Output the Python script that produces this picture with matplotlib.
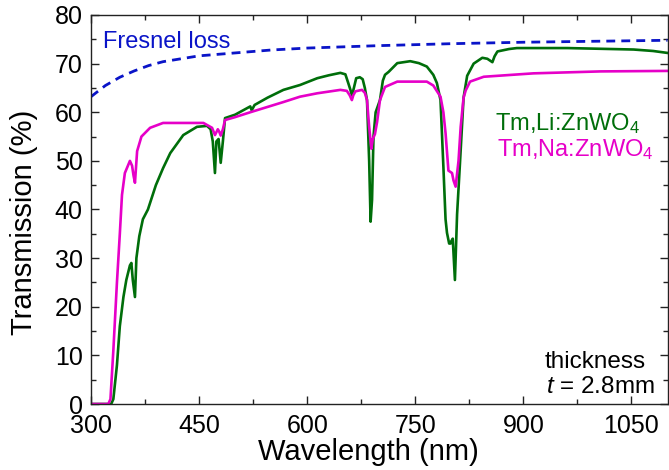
import matplotlib
matplotlib.use("Agg")
import matplotlib.pyplot as plt
from matplotlib.ticker import MultipleLocator

plt.rcParams['font.family'] = ['Liberation Sans', 'DejaVu Sans']
plt.rcParams['mathtext.fontset'] = 'custom'
plt.rcParams['mathtext.rm'] = 'Liberation Sans'
plt.rcParams['mathtext.it'] = 'Liberation Sans:italic'

# Tm,Li:ZnWO4 transmission
li_wl = [300, 328, 331, 336, 340, 345, 349, 354, 356, 358, 361, 363, 367, 372, 379,
         390, 400, 410, 428, 447, 461, 466, 469, 472, 474, 477, 480, 483, 486, 500,
         521, 523, 527, 545, 567, 590, 614, 630, 646, 653, 657, 660, 662, 664, 668,
         673, 677, 680, 683, 686, 688, 690, 692, 695, 701, 705, 708, 713, 725, 743,
         755, 766, 775, 780, 785, 789, 792, 794, 797, 799, 800, 802, 805, 808, 812,
         817, 822, 831, 843, 850, 857, 860, 864, 880, 891, 961, 1053, 1080, 1100]
li_t = [0, 0, 1, 8, 16, 22, 25.5, 28.5, 29, 25.5, 22, 30, 34.5, 38, 40,
        45, 48.5, 51.6, 55.3, 57, 57.2, 56.5, 54, 47.5, 54, 54.5, 49.6, 54, 58.8, 59.5,
        61.2, 60.4, 61.5, 63, 64.6, 65.6, 67, 67.6, 68.1, 67.8, 66, 64.6, 63.5, 64.5, 67,
        67.2, 66.8, 65, 62.5, 50, 37.5, 42, 55, 60, 62.5, 66.5, 67.7, 68.3, 70.1, 70.5,
        70.1, 69.4, 67.7, 66, 62.5, 48.8, 38, 35.2, 33, 33, 33.5, 34, 25.5, 39, 49.5,
        63, 67.5, 70, 71.2, 71, 70.3, 71.5, 72.5, 73, 73.2, 73.2, 72.9, 72.6, 72.2]

# Tm,Na:ZnWO4 transmission
na_wl = [300, 324, 327, 331, 336, 340, 343, 347, 354, 357, 359, 361, 364, 370, 382,
         400, 456, 468, 472, 476, 478, 480, 483, 486, 500, 521, 567, 590, 614, 646,
         655, 659, 662, 664, 667, 676, 680, 683, 686, 689, 691, 694, 697, 701, 708,
         725, 766, 775, 785, 789, 792, 796, 801, 803, 806, 810, 813, 817, 820, 826,
         845, 914, 1007, 1100]
na_t = [0, 0, 1, 11, 25, 35, 43, 47.5, 50, 49, 47, 45.5, 52, 55, 56.8,
        57.8, 57.8, 56.8, 55.3, 56.5, 56, 55.2, 56.5, 58.4, 59, 60, 62.1, 63.2, 63.9, 64.6,
        64.4, 63.5, 62.5, 63.5, 64.3, 64.6, 64, 62.5, 57, 52.5, 54.5, 55.5, 58, 62.5, 65.2,
        66.3, 66.3, 65.5, 63.2, 60, 55.7, 48, 47.5, 46, 44.7, 50, 57, 63, 64.5, 66.3,
        67.3, 68, 68.4, 68.5]

# Fresnel loss limit
fr_wl = [300, 320, 340, 360, 380, 400, 450, 500, 550, 600, 700, 800, 900, 1000, 1100]
fr_t = [63.2, 65.5, 67.2, 68.5, 69.6, 70.4, 71.6, 72.2, 72.8, 73.2, 73.7, 74.1, 74.4, 74.6, 74.8]

green = '#006e0a'
pink = '#e600c8'
blue = '#0a14c8'

fig = plt.figure(figsize=(6.69, 4.70), dpi=100)
ax = fig.add_axes([91 / 669, 1 - 404 / 470, 576.5 / 669, 389 / 470])

ax.plot(fr_wl, fr_t, color=blue, lw=2.0, linestyle=(0, (3.2, 2.2)))
ax.plot(li_wl, li_t, color=green, lw=1.9)
ax.plot(na_wl, na_t, color=pink, lw=1.9)

ax.set_xlim(300, 1100)
ax.set_ylim(0, 80)
ax.xaxis.set_major_locator(MultipleLocator(150))
ax.xaxis.set_minor_locator(MultipleLocator(75))
ax.yaxis.set_major_locator(MultipleLocator(10))
ax.yaxis.set_minor_locator(MultipleLocator(5))
ax.tick_params(which='both', direction='in', top=True, right=True, width=1.0,
               color='#222222')
ax.tick_params(which='major', length=6, labelsize=18)
ax.tick_params(axis='x', which='major', pad=7)
ax.tick_params(axis='y', which='major', pad=6)
ax.tick_params(which='minor', length=3.5)
for s in ax.spines.values():
    s.set_linewidth(1.0)
    s.set_color('#222222')

fig.text(24 / 669, 1 - 222 / 470, 'Transmission (%)', rotation=90,
         ha='center', va='center', fontsize=21)
fig.text(368 / 669, 1 - 452 / 470, 'Wavelength (nm)',
         ha='center', va='center', fontsize=21)

ax.text(317, 73.2, 'Fresnel loss', color=blue, fontsize=17, va='baseline')
ax.text(861, 56.4, 'Tm,Li:ZnWO$_4$', color=green, fontsize=17, va='baseline')
ax.text(864, 51.0, 'Tm,Na:ZnWO$_4$', color=pink, fontsize=17, va='baseline')
ax.text(930, 7.4, 'thickness', fontsize=17.5, va='baseline')
ax.text(932, 2.3, '$t$ = 2.8mm', fontsize=17.5, va='baseline')

fig.savefig('out.png', dpi=100)
